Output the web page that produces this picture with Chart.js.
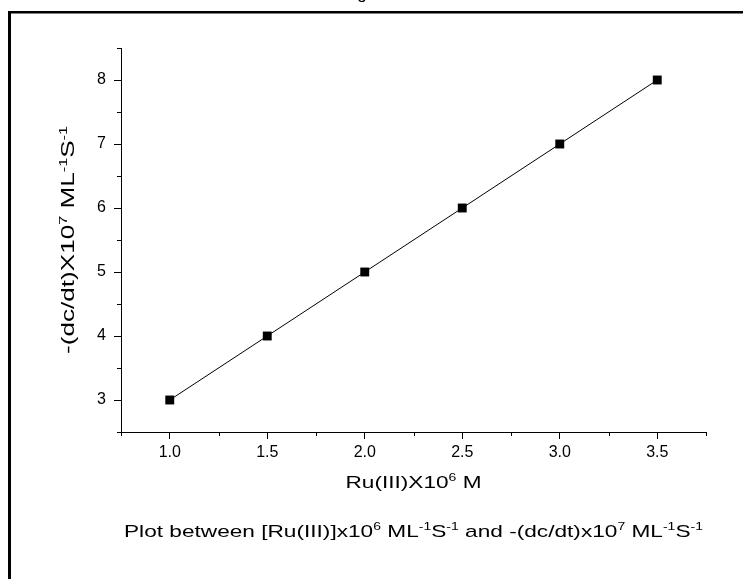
<!DOCTYPE html>
<html>
<head>
<meta charset="utf-8">
<script src="https://cdn.jsdelivr.net/npm/chart.js@4.4.1/dist/chart.umd.min.js"></script>
<style>
  html, body { margin: 0; padding: 0; background: #fff; }
  canvas { display: block; }
</style>
</head>
<body>
<canvas id="grafico" width="743" height="579"></canvas>
<script>
// dados
var concRu = [1.0, 1.5, 2.0, 2.5, 3.0, 3.5];
var taxa = [3, 4, 5, 6, 7, 8];
var ticksX = [1.0, 1.5, 2.0, 2.5, 3.0, 3.5];
var ticksY = [3, 4, 5, 6, 7, 8];

// textos com sobrescritos
var tituloX = [{ t: 'Ru(III)X10' }, { t: '6', sup: true }, { t: ' M' }];
var tituloY = [{ t: '-(dc/dt)X10' }, { t: '7', sup: true }, { t: ' ML' }, { t: '-1', sup: true }, { t: 'S' }, { t: '-1', sup: true }];
var legenda = [
  { t: 'Plot between [Ru(III)]x10' }, { t: '6', sup: true }, { t: ' ML' }, { t: '-1', sup: true }, { t: 'S' }, { t: '-1', sup: true },
  { t: ' and -(dc/dt)x10' }, { t: '7', sup: true }, { t: ' ML' }, { t: '-1', sup: true }, { t: 'S' }, { t: '-1', sup: true }
];

var FONTE = '"Liberation Sans", Arial, sans-serif';

function ehPrincipal(lista, v) {
  return lista.some(function (t) { return Math.abs(t - v) < 1e-6; });
}

// desenha texto com sobrescritos, centrado em (0,0), esticado na horizontal
function textoRico(ctx, partes, tam, larguraAlvo) {
  var tamSup = tam * 0.62;
  var total = 0;
  partes.forEach(function (p) {
    ctx.font = (p.sup ? tamSup : tam) + 'px ' + FONTE;
    p.w = ctx.measureText(p.t).width;
    total += p.w;
  });
  var esticar = larguraAlvo ? larguraAlvo / total : 1;
  ctx.save();
  ctx.scale(esticar, 1);
  var x = -total / 2;
  ctx.textBaseline = 'alphabetic';
  ctx.textAlign = 'left';
  ctx.fillStyle = '#000';
  partes.forEach(function (p) {
    ctx.font = (p.sup ? tamSup : tam) + 'px ' + FONTE;
    ctx.fillText(p.t, x, p.sup ? tam * 0.36 - tam * 0.42 : tam * 0.36);
    x += p.w;
  });
  ctx.restore();
}

var extras = {
  id: 'extras',
  afterDraw: function (chart) {
    var ctx = chart.ctx;
    var sx = chart.scales.x, sy = chart.scales.y;
    var area = chart.chartArea;
    ctx.save();
    // ticks menores
    ctx.strokeStyle = '#000';
    ctx.lineWidth = 1;
    ctx.beginPath();
    sx.ticks.forEach(function (t) {
      if (ehPrincipal(ticksX, t.value)) return;
      var px = Math.round(sx.getPixelForValue(t.value)) + 0.5;
      ctx.moveTo(px, area.bottom);
      ctx.lineTo(px, area.bottom + 4);
    });
    sy.ticks.forEach(function (t) {
      if (ehPrincipal(ticksY, t.value)) return;
      var py = Math.round(sy.getPixelForValue(t.value)) + 0.5;
      ctx.moveTo(area.left, py);
      ctx.lineTo(area.left - 4, py);
    });
    ctx.stroke();

    // moldura
    ctx.fillStyle = '#000';
    ctx.fillRect(8, 11, 743, 2.5);
    ctx.fillRect(8, 11, 3, 579);

    // pedaço do título cortado no topo
    ctx.font = '17px ' + FONTE;
    ctx.textAlign = 'center';
    ctx.textBaseline = 'alphabetic';
    ctx.fillText('g', 362, -1);

    // títulos
    var cx = (area.left + area.right) / 2;
    var cy = (area.top + area.bottom) / 2;
    ctx.save();
    ctx.translate(cx, 482);
    textoRico(ctx, tituloX, 17, 136);
    ctx.restore();

    ctx.save();
    ctx.translate(68, cy);
    ctx.rotate(-Math.PI / 2);
    textoRico(ctx, tituloY, 18, 228);
    ctx.restore();

    ctx.save();
    ctx.translate(cx, 531);
    textoRico(ctx, legenda, 17, 579);
    ctx.restore();
    ctx.restore();
  }
};

var pontos = concRu.map(function (x, i) { return { x: x, y: taxa[i] }; });

var myChart = new Chart(document.getElementById('grafico').getContext('2d'), {
  type: 'scatter',
  data: {
    datasets: [{
      data: pontos,
      showLine: true,
      borderColor: '#000',
      borderWidth: 1,
      pointStyle: 'rect',
      pointRadius: 6.3,
      pointBackgroundColor: '#000',
      pointBorderWidth: 0
    }]
  },
  options: {
    responsive: false,
    animation: false,
    layout: { padding: { top: 48, right: 37, left: 0, bottom: 0 } },
    plugins: { legend: { display: false }, tooltip: { enabled: false } },
    scales: {
      x: {
        type: 'linear',
        min: 0.75,
        max: 3.75,
        afterFit: function (s) { s.height = 147; },
        border: { color: '#000', width: 1 },
        grid: {
          drawOnChartArea: false,
          drawTicks: true,
          tickLength: 7,
          tickColor: function (c) { return ehPrincipal(ticksX, c.tick.value) ? '#000' : 'rgba(0,0,0,0)'; }
        },
        ticks: {
          stepSize: 0.25,
          autoSkip: false,
          maxRotation: 0,
          padding: 4,
          color: '#000',
          font: { family: FONTE, size: 16 },
          callback: function (v) { return ehPrincipal(ticksX, v) ? v.toFixed(1) : ''; }
        }
      },
      y: {
        min: 2.5,
        max: 8.5,
        afterFit: function (s) { s.width = 121; },
        border: { color: '#000', width: 1 },
        grid: {
          drawOnChartArea: false,
          drawTicks: true,
          tickLength: 7,
          tickColor: function (c) { return ehPrincipal(ticksY, c.tick.value) ? '#000' : 'rgba(0,0,0,0)'; }
        },
        ticks: {
          stepSize: 0.5,
          autoSkip: false,
          padding: 8,
          color: '#000',
          font: { family: FONTE, size: 16 },
          callback: function (v) { return ehPrincipal(ticksY, v) ? String(v) : ''; }
        }
      }
    }
  },
  plugins: [extras]
});
</script>
</body>
</html>
